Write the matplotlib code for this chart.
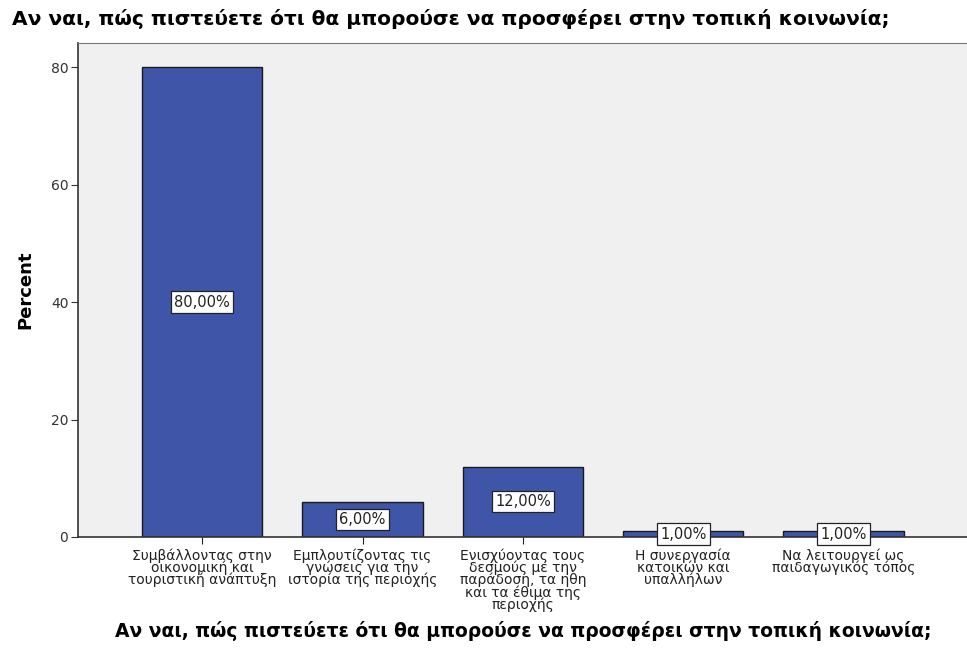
import numpy as np
import matplotlib.pyplot as plt

# δεδομένα
categories = ["Συμβάλλοντας στην\nοικονομική και\nτουριστική ανάπτυξη",
              "Εμπλουτίζοντας τις\nγνώσεις για την\nιστορία της περιοχής",
              "Ενισχύοντας τους\nδεσμούς με την\nπαράδοση, τα ηθη\nκαι τα έθιμα της\nπεριοχής",
              "Η συνεργασία\nκατοικών και\nυπαλλήλων",
              "Να λειτουργεί ως\nπαιδαγωγικός τόπος"]
percent = [80.0, 6.0, 12.0, 1.0, 1.0]
labels = ["80,00%", "6,00%", "12,00%", "1,00%", "1,00%"]
yticks = [0, 20, 40, 60, 80]

title = "Αν ναι, πώς πιστεύετε ότι θα μπορούσε να προσφέρει στην τοπική κοινωνία;"

plt.rcParams['font.family'] = ['DejaVu Sans']

fig = plt.figure(figsize=(9.67, 6.61), dpi=100)
ax = fig.add_axes([0.0807, 0.1876, 0.92, 0.747])
ax.set_facecolor("#F0F0F0")

x = np.arange(len(percent))
ax.bar(x, percent, width=0.75, color="#3F55A8", edgecolor="#1a1a1a", linewidth=1)

# ετικέτες τιμών στη μέση της μπάρας
for xi, v, lab in zip(x, percent, labels):
    ax.text(xi, v / 2, lab, ha="center", va="center", fontsize=10.5, color="#222222",
            bbox=dict(boxstyle="square,pad=0.22", fc="white", ec="#222222", lw=0.9))

ax.set_xlim(-0.775, 4.775)
ax.set_ylim(0, 84.1)
ax.set_yticks(yticks)
ax.set_xticks(x)
ax.set_xticklabels(categories, fontsize=10, linespacing=0.82)
ax.tick_params(axis="y", direction="out", length=5, labelsize=10, colors="#333333", pad=2)
ax.tick_params(axis="x", direction="out", length=5, pad=3, colors="#222222")

for s in ["left", "bottom"]:
    ax.spines[s].set_color("#333333")
    ax.spines[s].set_linewidth(1.2)
for s in ["top", "right"]:
    ax.spines[s].set_color("#777777")

ax.set_ylabel("Percent", fontsize=13, fontweight="bold", labelpad=12)
ax.set_xlabel(title, fontsize=13.5, fontweight="bold", labelpad=6)

fig.text(0.0124, 0.971, title, ha="left", va="center", fontsize=14.5, fontweight="bold")

fig.savefig("out.png", dpi=100)
